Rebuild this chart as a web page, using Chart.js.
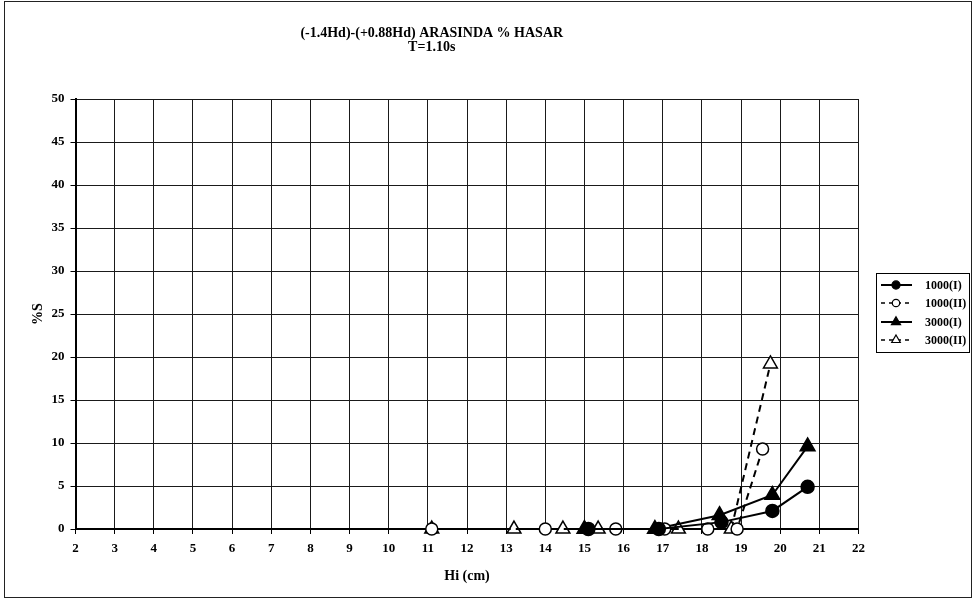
<!DOCTYPE html>
<html>
<head>
<meta charset="utf-8">
<script src="https://cdn.jsdelivr.net/npm/chart.js@4/dist/chart.umd.min.js"></script>
<style>
  html, body { margin: 0; padding: 0; background: #fff; }
  #frame { position: absolute; left: 4px; top: 1px; width: 966px; height: 595px; border: 1px solid #222; }
  #frame canvas { display: block; }
</style>
</head>
<body>
<div id="frame"><canvas id="hasarChart" width="966" height="595"></canvas></div>
<script>
// Hi (cm) and %S for each run
const hi1000I = [15.1, 16.9, 18.5, 19.8, 20.7];
const s1000I = [0, 0, 0.8, 2.1, 4.9];

const hi1000II = [11.1, 14.0, 15.8, 17.05, 18.15, 18.9, 19.55];
const s1000II = [0, 0, 0, 0, 0, 0, 9.3];

const hi3000I = [15.0, 16.8, 18.45, 19.8, 20.7];
const s3000I = [0, 0, 1.6, 3.95, 9.6];

const hi3000II = [11.1, 13.2, 14.45, 15.35, 17.4, 18.75, 19.75];
const s3000II = [0, 0, 0, 0, 0, 0, 19.2];

const seriesNames = ['1000(I)', '1000(II)', '3000(I)', '3000(II)'];
const titleLines = ['(-1.4Hd)-(+0.88Hd) ARASINDA % HASAR', 'T=1.10s'];
const xTitle = 'Hi (cm)';
const yTitle = '%S';

function pairs(xs, ys) {
  return xs.map((x, i) => ({ x: x, y: ys[i] }));
}

const serif = "'Liberation Serif', 'Times New Roman', serif";

function lineSet(label, xs, ys, style, filled, dashed, r) {
  return {
    label: label,
    data: pairs(xs, ys),
    borderColor: '#000',
    borderWidth: 2,
    borderDash: dashed ? [7, 5] : [],
    pointStyle: style,
    pointRadius: r,
    pointHoverRadius: r,
    pointBorderWidth: 1.5,
    pointBorderColor: '#000',
    pointBackgroundColor: filled ? '#000' : '#fff',
    tension: 0,
    fill: false,
    clip: false
  };
}

// boxed legend at the right, line sample with its marker
const boxLegend = {
  id: 'boxLegend',
  afterDraw(chart) {
    const ctx = chart.ctx;
    const left = 871, top = 271, right = 964, bottom = 350;
    const rowY = [283, 301, 320, 338];
    ctx.save();
    ctx.strokeStyle = '#000';
    ctx.lineWidth = 1;
    ctx.setLineDash([]);
    ctx.strokeRect(left + 0.5, top + 0.5, right - left, bottom - top);
    chart.data.datasets.forEach((ds, i) => {
      const y = rowY[i];
      ctx.strokeStyle = '#000';
      ctx.lineWidth = ds.borderDash.length ? 1.5 : 2;
      ctx.setLineDash(ds.borderDash.length ? [4, 4] : []);
      ctx.beginPath();
      ctx.moveTo(left + 5, y);
      ctx.lineTo(left + 36, y);
      ctx.stroke();
      ctx.setLineDash([]);
      ctx.lineWidth = 1.2;
      ctx.fillStyle = ds.pointBackgroundColor;
      Chart.helpers.drawPoint(ctx, {
        pointStyle: ds.pointStyle,
        radius: ds.pointRadius * 0.62,
        rotation: 0,
        borderWidth: 1.2
      }, left + 20, y);
      ctx.fillStyle = '#000';
      ctx.font = 'bold 12px ' + serif;
      ctx.textAlign = 'left';
      ctx.textBaseline = 'middle';
      ctx.fillText(ds.label, left + 49, y + 0.5);
    });
    ctx.restore();
  }
};

const ctx = document.getElementById('hasarChart').getContext('2d');
const hasarChart = new Chart(ctx, {
  type: 'line',
  data: {
    datasets: [
      lineSet(seriesNames[0], hi1000I, s1000I, 'circle', true, false, 6.5),
      lineSet(seriesNames[1], hi1000II, s1000II, 'circle', false, true, 6),
      lineSet(seriesNames[2], hi3000I, s3000I, 'triangle', true, false, 8.5),
      lineSet(seriesNames[3], hi3000II, s3000II, 'triangle', false, true, 8)
    ]
  },
  options: {
    responsive: false,
    animation: false,
    layout: { padding: { left: 0, right: 112.5, top: 0, bottom: 0 } },
    plugins: {
      legend: { display: false },
      tooltip: { enabled: false },
      title: {
        display: true,
        text: titleLines,
        color: '#000',
        font: { family: serif, size: 14, weight: 'bold', lineHeight: 1.0 },
        padding: { top: 24, bottom: 45 }
      }
    },
    scales: {
      x: {
        type: 'linear',
        min: 2,
        max: 22,
        ticks: {
          stepSize: 1,
          color: '#000',
          padding: 7,
          maxRotation: 0,
          font: { family: serif, size: 13, weight: 'bold' }
        },
        grid: { color: '#1a1a1a', lineWidth: 1, tickLength: 5, tickColor: '#000' },
        border: { display: true, color: '#000', width: 2 },
        title: {
          display: true,
          text: xTitle,
          color: '#000',
          font: { family: serif, size: 14, weight: 'bold' },
          padding: { top: 0, bottom: 12 }
        },
        afterFit(scale) { scale.height = 68; }
      },
      y: {
        min: 0,
        max: 50,
        ticks: {
          stepSize: 5,
          color: '#000',
          padding: 6,
          font: { family: serif, size: 13, weight: 'bold' }
        },
        grid: { color: '#1a1a1a', lineWidth: 1, tickLength: 5, tickColor: '#000' },
        border: { display: true, color: '#000', width: 2 },
        title: {
          display: true,
          text: yTitle,
          color: '#000',
          font: { family: serif, size: 14, weight: 'bold' },
          padding: { top: 25, bottom: 0 }
        },
        afterFit(scale) { scale.width = 70.5; }
      }
    }
  },
  plugins: [boxLegend]
});
</script>
</body>
</html>
